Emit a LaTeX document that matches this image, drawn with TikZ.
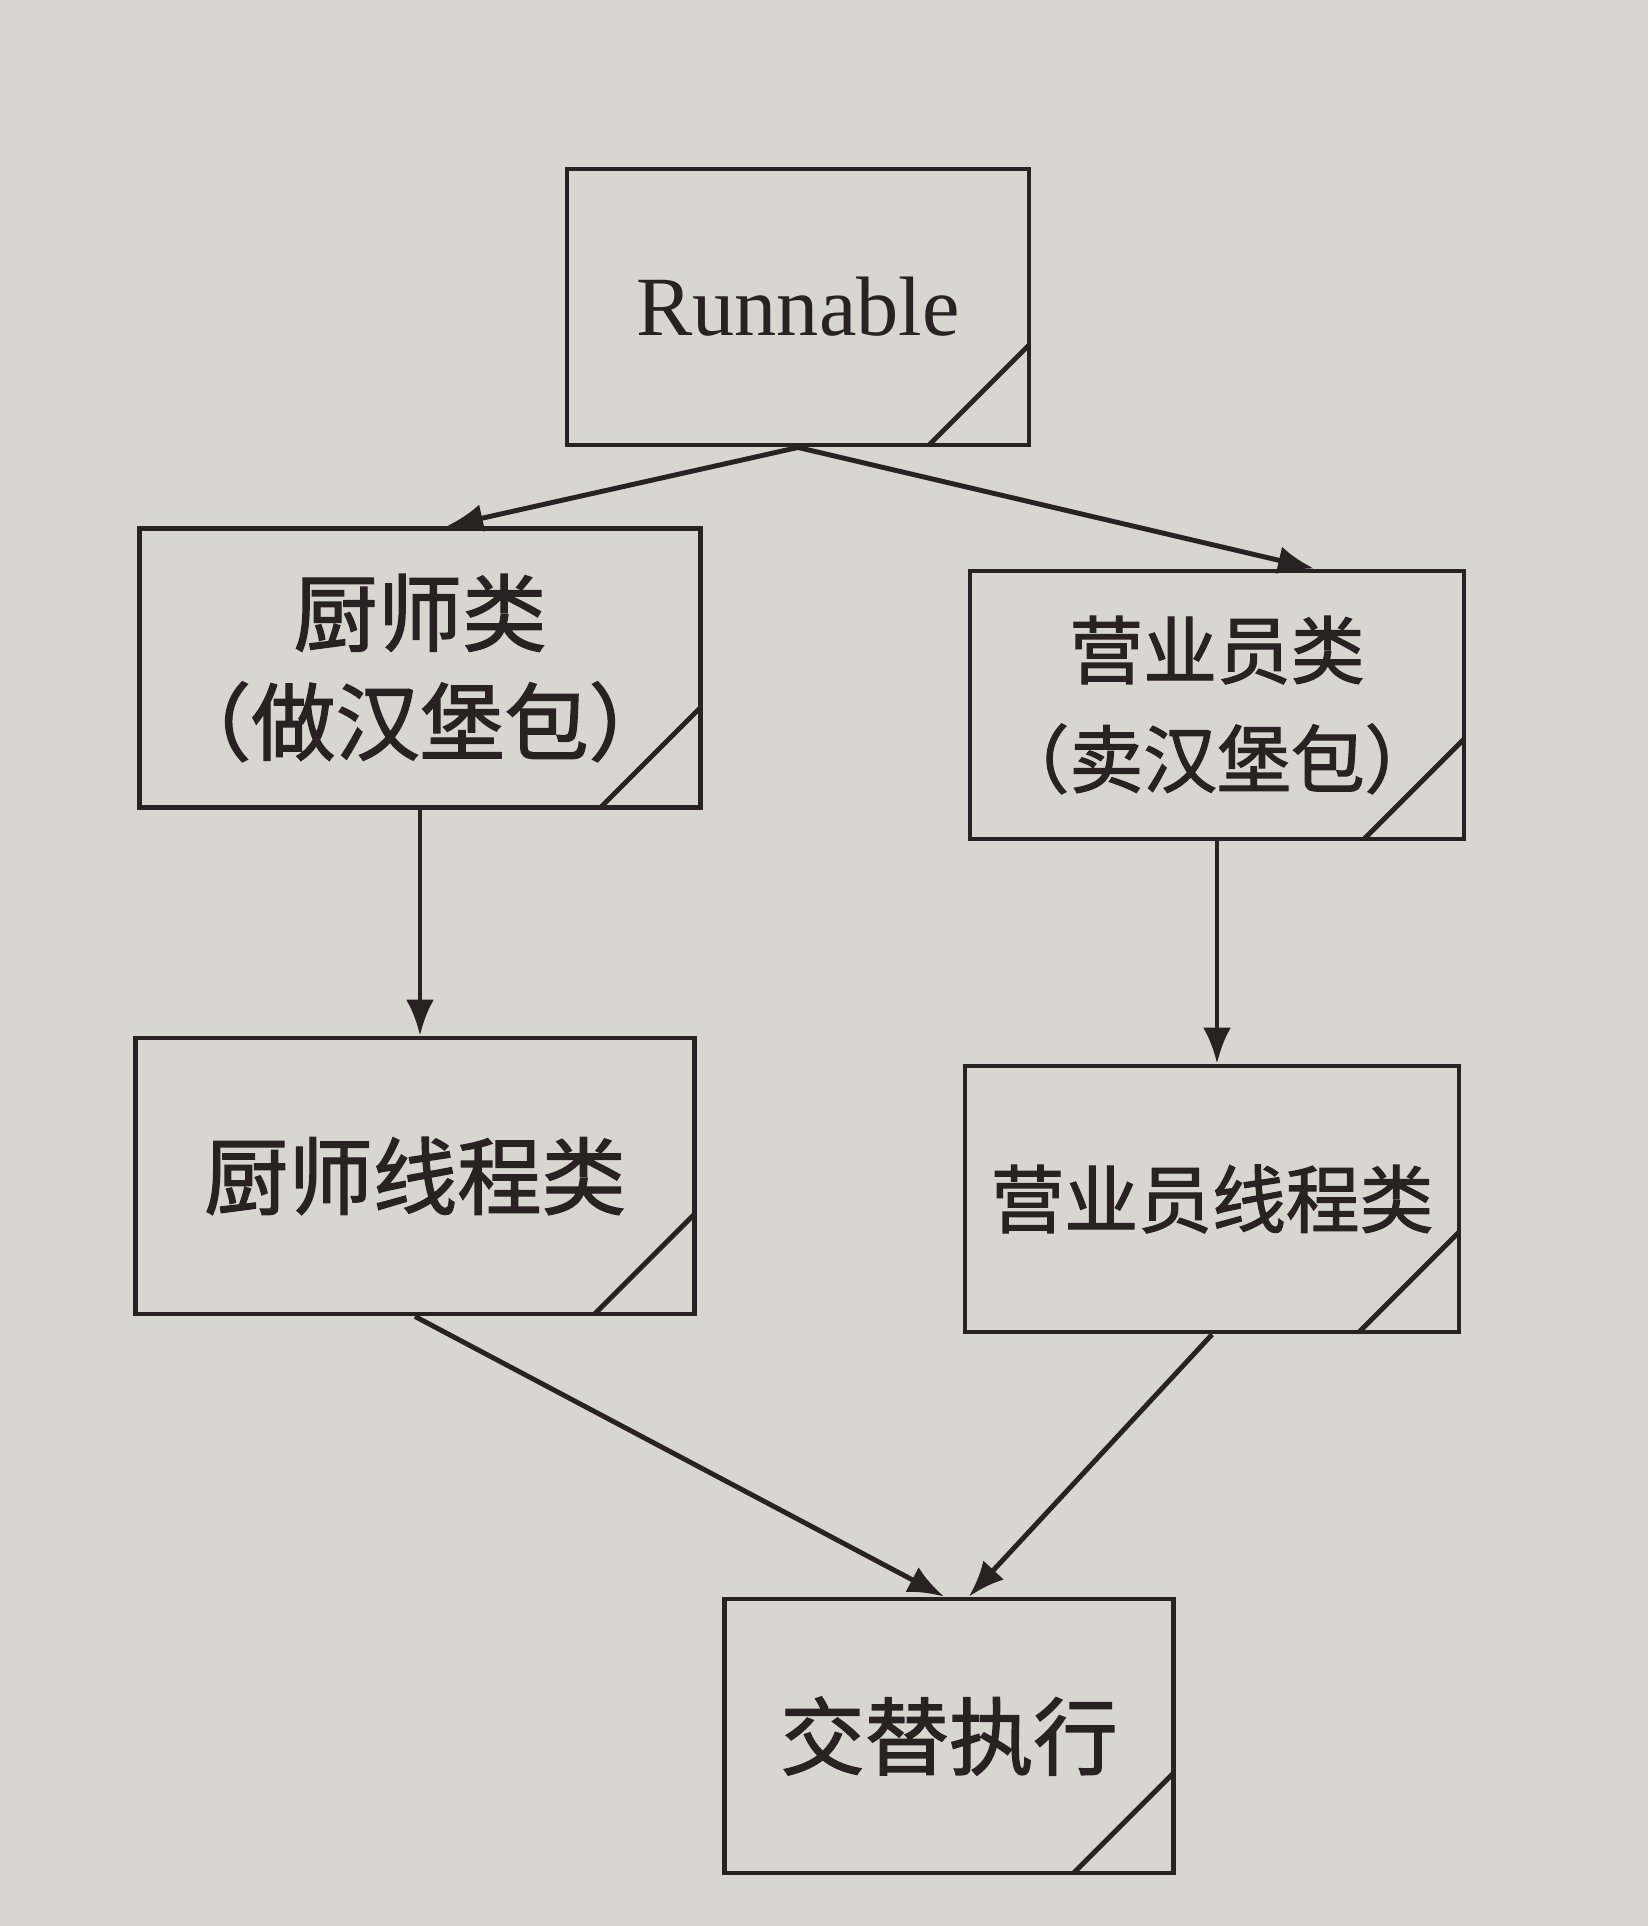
\documentclass[tikz,border=0pt]{standalone}
\usepackage{fontspec}
\setmainfont{Liberation Serif}
\newfontfamily\cjk[FakeBold=1.6]{Noto Sans CJK SC}
\usetikzlibrary{arrows.meta,positioning}
\definecolor{paper}{RGB}{216,214,209}
\definecolor{ink}{RGB}{40,34,34}

\begin{document}
\begin{tikzpicture}[
  cls/.style={rectangle, draw=ink, line width=1.4pt, inner sep=0pt,
              align=center, text=ink, font=\cjk\fontsize{24}{31}\selectfont,
              path picture={\draw[ink, line width=1.4pt]
                ([xshift=-1cm]path picture bounding box.south east) --
                ([yshift=1cm]path picture bounding box.south east);}},
  small/.style={font=\cjk\fontsize{21}{31}\selectfont},
  arr/.style={-{Latex[length=0.36cm,width=0.28cm]}, line width=1.4pt, draw=ink}
]
  \fill[paper] (0,0) rectangle (16.48,-19.26);
  \useasboundingbox (0,0) rectangle (16.48,-19.26);

  \node[cls, minimum width=4.62cm, minimum height=2.76cm,
        font=\rmfamily\fontsize{24}{28}\selectfont] (run) at (7.98,-3.07) {Runnable};
  \node[cls, minimum width=5.61cm, minimum height=2.79cm] (chef)  at (4.20,-6.68)
       {厨师类\\（做汉堡包）};
  \node[cls, small, minimum width=4.94cm, minimum height=2.68cm] (clerk) at (12.17,-7.05)
       {营业员类\\（卖汉堡包）};
  \node[cls, minimum width=5.59cm, minimum height=2.76cm] (chefth)  at (4.15,-11.76)
       {厨师线程类};
  \node[cls, small, minimum width=4.94cm, minimum height=2.66cm] (clerkth) at (12.12,-11.99)
       {营业员线程类};
  \node[cls, minimum width=4.49cm, minimum height=2.74cm] (alt) at (9.49,-17.36)
       {交替执行};

  \draw[arr] (run.south) -- ([xshift=0.27cm]chef.north);
  \draw[arr] (run.south) -- ([xshift=0.97cm]clerk.north);
  \draw[arr] (chef.south) -- (chef.south |- chefth.north);
  \draw[arr] (clerk.south) -- (clerk.south |- clerkth.north);
  \draw[arr] (chefth.south) -- ([xshift=-0.05cm]alt.north);
  \draw[arr] (clerkth.south) -- ([xshift=0.2cm]alt.north);
\end{tikzpicture}
\end{document}
